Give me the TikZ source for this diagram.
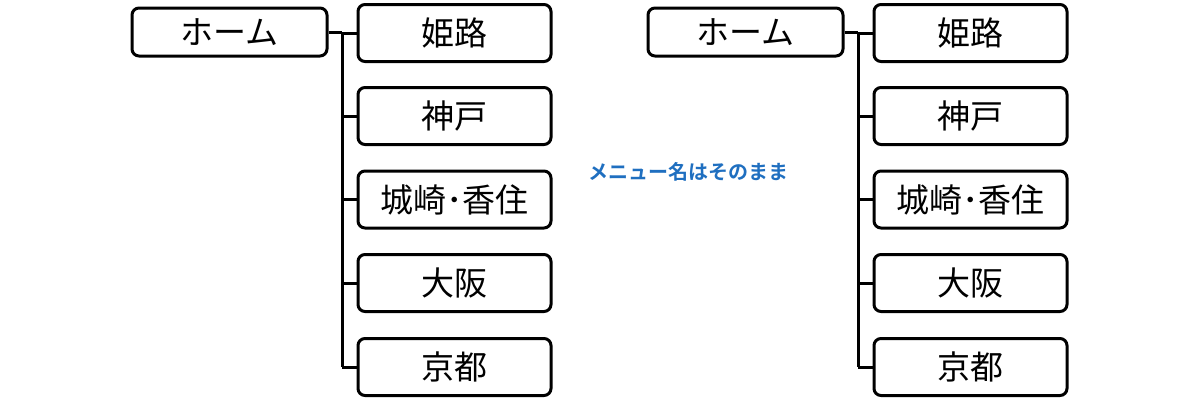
\documentclass[tikz,border=0pt]{standalone}
\usepackage{fontspec}
\setmainfont{Noto Sans CJK JP}[BoldFont={Noto Sans CJK JP Bold}]
\definecolor{note}{HTML}{1F6FC0}
\begin{document}
\begin{tikzpicture}[x=1pt,y=-1pt,
  bx/.style={draw=black,line width=3pt,rounded corners=7pt,fill=white,minimum width=193pt,minimum height=57pt,font=\fontsize{33}{34}\selectfont,inner sep=0pt},
  hb/.style={bx,minimum width=195pt,minimum height=48pt},
  ln/.style={line width=3pt}]
\useasboundingbox (0,0) rectangle (1200,400);
\foreach \p/\x in {L/0,R/516}{
  \node[hb] (\p h) at (229.5+\x,32) {ホーム};
  \node[bx] (\p a) at (454.5+\x,33) {姫路};
  \node[bx] (\p b) at (454.5+\x,116) {神戸};
  \node[bx] (\p c) at (454.5+\x,199.5) {城崎･香住};
  \node[bx] (\p d) at (454.5+\x,283) {大阪};
  \node[bx] (\p e) at (454.5+\x,367) {京都};
  \coordinate (\p j) at (342+\x,32);
  \coordinate (\p k) at (342+\x,367);
  \draw[ln] (\p h.east) -- (\p j);
  \draw[ln] (\p j) -- (\p k);
  \foreach \c in {a,b,c,d,e}{\draw[ln] (\p j |- \p\c.west) -- (\p\c.west);}
}
\node[text=note,font=\bfseries\fontsize{20}{21}\selectfont] (m) at (688,172) {メニュー名はそのまま};
\end{tikzpicture}
\end{document}
